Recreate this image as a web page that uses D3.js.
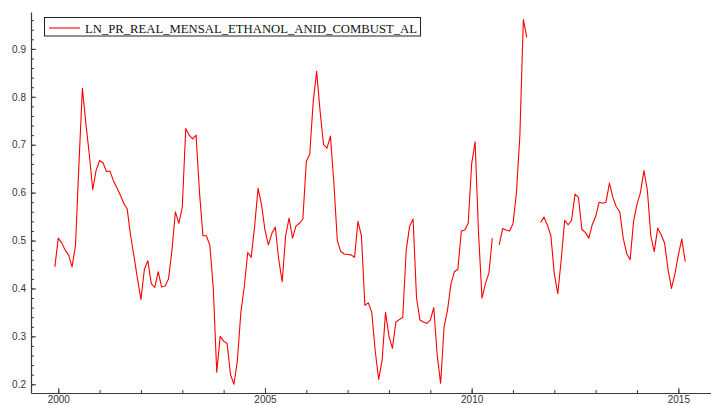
<!DOCTYPE html>
<html>
<head>
<meta charset="utf-8">
<script src="https://cdn.jsdelivr.net/npm/d3@7"></script>
<style>
  body { margin: 0; background: #fff; }
  svg { display: block; }
</style>
</head>
<body>
<div id="chart"></div>
<script>
// series name shown in legend
const seriesName = "LN_PR_REAL_MENSAL_ETHANOL_ANID_COMBUST_AL";
// monthly data, first value is Dec 1999; null = missing month
const firstMonth = [1999, 12];
const values = [
    0.445,
    0.505, 0.495, 0.48, 0.47, 0.445, 0.49, 0.66, 0.818, 0.745, 0.68, 0.606, 0.647,   // 2000
    0.667, 0.662, 0.644, 0.645, 0.625, 0.61, 0.595, 0.578, 0.566, 0.51, 0.466, 0.42,  // 2001
    0.377, 0.44, 0.458, 0.41, 0.402, 0.435, 0.403, 0.405, 0.42, 0.48, 0.56, 0.536,    // 2002
    0.57, 0.734, 0.72, 0.712, 0.72, 0.60, 0.51, 0.51, 0.49, 0.40, 0.225, 0.30,        // 2003
    0.29, 0.285, 0.22, 0.20, 0.25, 0.35, 0.404, 0.475, 0.465, 0.53, 0.609, 0.575,     // 2004
    0.522, 0.491, 0.515, 0.528, 0.46, 0.414, 0.51, 0.547, 0.505, 0.53, 0.536, 0.545,  // 2005
    0.665, 0.68, 0.79, 0.853, 0.77, 0.70, 0.693, 0.718, 0.62, 0.50, 0.477, 0.472,     // 2006
    0.471, 0.47, 0.465, 0.54, 0.51, 0.365, 0.37, 0.35, 0.27, 0.21, 0.25, 0.35,        // 2007
    0.30, 0.275, 0.33, 0.335, 0.34, 0.48, 0.53, 0.545, 0.38, 0.334, 0.33, 0.327,      // 2008
    0.334, 0.36, 0.26, 0.202, 0.32, 0.355, 0.41, 0.435, 0.44, 0.52, 0.522, 0.536,     // 2009
    0.66, 0.706, 0.515, 0.38, 0.41, 0.432, 0.505, null, 0.491, 0.525, 0.522, 0.52,    // 2010
    0.535, 0.60, 0.72, 0.961, 0.924, null, null, null, 0.538, 0.549, 0.532, 0.51,     // 2011
    0.43, 0.389, 0.46, 0.542, 0.533, 0.542, 0.597, 0.59, 0.523, 0.517, 0.505, 0.533,  // 2012
    0.55, 0.58, 0.578, 0.58, 0.62, 0.59, 0.57, 0.56, 0.505, 0.473, 0.46, 0.54,        // 2013
    0.576, 0.60, 0.646, 0.606, 0.51, 0.477, 0.526, 0.512, 0.495, 0.44, 0.40, 0.43,    // 2014
    0.47, 0.503, 0.456                                                                // 2015
];
const yTicks = [0.2, 0.3, 0.4, 0.5, 0.6, 0.7, 0.8, 0.9];
const xTicks = [2000, 2005, 2010, 2015];

const width = 711, height = 405;

const data = values.map((v, i) => ({
    t: firstMonth[0] + (firstMonth[1] - 1 + i) / 12,
    v: v
}));

const x = d3.scaleLinear().domain([1999.34, 2015.79]).range([31, 711]);
const y = d3.scaleLinear().domain([0.1818, 0.977]).range([393, 12]);

const svg = d3.select("#chart").append("svg")
    .attr("width", width)
    .attr("height", height);

const axisColor = "#3a3a3a";
const font = "'Liberation Sans', Arial, sans-serif";

// y axis: minor ticks every 0.02, labelled ticks every 0.1
const yMinor = d3.range(0.2, 0.97, 0.02).map(d => +d.toFixed(2));
svg.append("g")
    .attr("transform", `translate(${x.range()[0]},0)`)
    .call(d3.axisLeft(y).tickValues(yMinor).tickSize(-3).tickSizeOuter(0).tickFormat(""))
    .call(g => g.select(".domain").remove());
svg.append("g")
    .attr("transform", `translate(${x.range()[0]},0)`)
    .call(d3.axisLeft(y).tickValues(yTicks).tickSize(-5).tickSizeOuter(0).tickPadding(5)
        .tickFormat(d3.format(".1f")));

// x axis: minor ticks every year
const xMinor = d3.range(2000, 2016);
svg.append("g")
    .attr("transform", `translate(0,${y.range()[0]})`)
    .call(d3.axisBottom(x).tickValues(xMinor).tickSize(-3).tickSizeOuter(0).tickFormat(""))
    .call(g => g.select(".domain").remove());
svg.append("g")
    .attr("transform", `translate(0,${y.range()[0]})`)
    .call(d3.axisBottom(x).tickValues(xTicks).tickSize(-5).tickSizeOuter(0).tickPadding(3)
        .tickFormat(d3.format("d")));

svg.selectAll(".tick line").attr("stroke", axisColor);
svg.selectAll(".domain").attr("stroke", axisColor).attr("stroke-width", 1.2);
svg.selectAll(".tick text")
    .attr("fill", "#333")
    .style("font-family", font)
    .style("font-size", "10px");

// the series
const line = d3.line()
    .defined(d => d.v != null)
    .x(d => x(d.t))
    .y(d => y(d.v));

svg.append("path")
    .datum(data)
    .attr("fill", "none")
    .attr("stroke", "#ff0000")
    .attr("stroke-width", 1.1)
    .attr("stroke-linejoin", "round")
    .attr("d", line);

// legend
const legend = svg.append("g");
legend.append("rect")
    .attr("x", 44.5).attr("y", 17.5)
    .attr("width", 376).attr("height", 18.5)
    .attr("fill", "#fff")
    .attr("stroke", "#222")
    .attr("stroke-width", 1);
legend.append("line")
    .attr("x1", 49).attr("x2", 80)
    .attr("y1", 28).attr("y2", 28)
    .attr("stroke", "#ff0000")
    .attr("stroke-width", 1.1);
legend.append("text")
    .attr("x", 85).attr("y", 32.7)
    .attr("textLength", 332)
    .attr("lengthAdjust", "spacingAndGlyphs")
    .style("font-family", "'Liberation Serif', 'Times New Roman', serif")
    .style("font-size", "12.7px")
    .attr("fill", "#111")
    .text(seriesName);
</script>
</body>
</html>
